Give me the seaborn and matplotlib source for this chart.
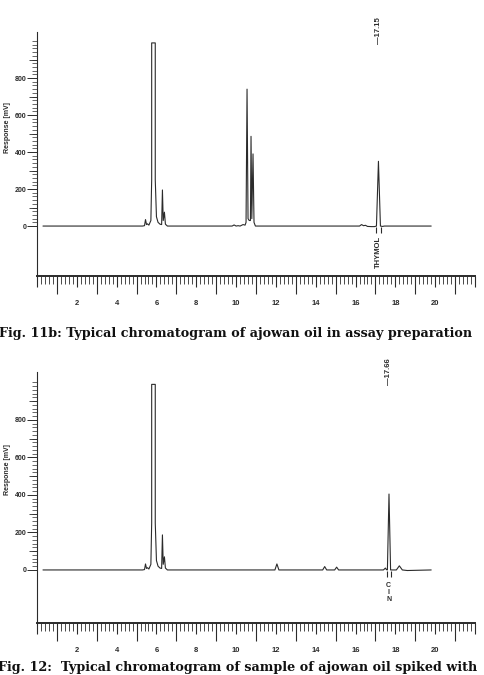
import numpy as np
import pandas as pd
import matplotlib
matplotlib.use('Agg')
import matplotlib.pyplot as plt
import matplotlib.ticker as mticker
import seaborn as sns

# =====================================================
# DATA
# =====================================================

# Fig. 11b - ajowan oil, assay preparation
top_time = [0.3, 5.3, 5.4, 5.45, 5.5, 5.55, 5.62, 5.72, 5.76, 5.76, 5.94, 5.94, 6.0, 6.08, 6.18, 6.26,
            6.3, 6.34, 6.4, 6.45, 6.55, 9.8, 9.9, 10.0, 10.1, 10.2, 10.35, 10.45, 10.5, 10.55, 10.6,
            10.66, 10.72, 10.75, 10.79, 10.85, 10.9, 10.97, 16.2, 16.3, 16.4, 16.5, 16.6, 16.8, 16.95,
            17.05, 17.15, 17.25, 17.35, 17.45, 19.8]
top_resp = [0, 0, 2, 35, 8, 12, 5, 30, 250, 990, 990, 250, 50, 20, 10, 8,
            195, 30, 75, 10, 0, 0, 6, 0, 2, 0, 8, 5, 20, 740, 40,
            30, 30, 485, 40, 390, 20, 0, 0, 8, 2, 4, -2, -3, -3,
            0, 350, 0, -2, 0, 0]
top_marks = [17.02, 17.3]
top_rt_label = '\u201417.15'
top_peak_rt = 17.15
top_peak_name = 'THYMOL'

# Fig. 12 - second chromatogram
bot_time = [0.3, 5.3, 5.4, 5.45, 5.5, 5.55, 5.62, 5.72, 5.76, 5.76, 5.94, 5.94, 6.0, 6.08, 6.18, 6.26,
            6.3, 6.34, 6.4, 6.45, 6.55, 11.95, 12.05, 12.15, 14.35, 14.45, 14.55, 14.95, 15.05, 15.15,
            17.4, 17.5, 17.55, 17.6, 17.68, 17.76, 18.05, 18.2, 18.35, 18.6, 19.8]
bot_resp = [0, 0, 2, 32, 8, 12, 5, 30, 250, 990, 990, 250, 50, 20, 10, 8,
            187, 30, 70, 10, 0, 0, 32, 0, 0, 18, 0, 0, 15, 0,
            0, 10, 2, 0, 405, 0, 0, 22, 0, -3, 0]
bot_marks = [17.56, 17.8]
bot_rt_label = '\u201417.66'
bot_peak_rt = 17.66
bot_peak_name = 'C\nI\nN'

caption_top = 'Fig. 11b: Typical chromatogram of ajowan oil in assay preparation'
caption_bot = 'Fig. 12:  Typical chromatogram of sample of ajowan oil spiked with'

# =====================================================
# STYLE
# =====================================================

W, H = 485, 675
sns.set_style('white')
plt.rcParams['font.family'] = ['Liberation Sans', 'DejaVu Sans']
INK = '#2b2b2b'


def px_axes(fig, left, right, bottom, top):
    """Axes placed with pixel coordinates (origin top-left)."""
    return fig.add_axes([left / W, 1 - bottom / H, (right - left) / W, (bottom - top) / H])


def draw_panel(ax, time, resp, marks, rt_label, rt, name, ylim, name_y, name_kw):
    df = pd.DataFrame({'t': time, 'r': resp})
    sns.lineplot(data=df, x='t', y='r', sort=False, estimator=None, ax=ax,
                 color=INK, linewidth=0.8)
    ax.plot(marks, [-22] * len(marks), ls='none', marker='|', ms=4, mew=0.8, color=INK)

    ax.set_xlim(0, 22)
    ax.set_ylim(*ylim)
    ax.set_xlabel('')
    ax.set_ylabel('')

    for s in ['top', 'right']:
        ax.spines[s].set_visible(False)
    ax.spines['left'].set_color(INK)
    ax.spines['left'].set_linewidth(0.8)
    ax.spines['bottom'].set_color(INK)
    ax.spines['bottom'].set_linewidth(1.4)

    # x ruler: labelled even minutes, fine ticks every 0.2 min
    ax.xaxis.set_major_locator(mticker.MultipleLocator(2))
    ax.xaxis.set_minor_locator(mticker.MultipleLocator(0.2))
    ax.xaxis.set_major_formatter(mticker.FuncFormatter(
        lambda v, _: f'{int(round(v))}' if 2 <= v <= 20 else ''))
    ax.tick_params(axis='x', which='both', bottom=True)
    ax.tick_params(axis='x', which='major', direction='out', length=8, width=0.8,
                   color=INK, labelsize=5.5, pad=9, labelcolor=INK)
    ax.tick_params(axis='x', which='minor', direction='out', length=5.5, width=0.6, color=INK)
    for lab in ax.get_xticklabels():
        lab.set_fontweight('bold')
    sec = ax.secondary_xaxis('bottom')
    sec.set_xticks(np.arange(1, 22, 2))
    sec.tick_params(axis='x', bottom=True, length=13, width=0.8, color=INK, labelbottom=False)
    sec.spines['bottom'].set_visible(False)
    sec.xaxis.set_minor_locator(mticker.NullLocator())

    # y ticks only over 0..1000
    ax.yaxis.set_major_locator(mticker.FixedLocator(np.arange(0, 900, 200)))
    ax.yaxis.set_minor_locator(mticker.FixedLocator(np.arange(0, 1001, 20)))
    ax.tick_params(axis='y', which='both', left=True)
    ax.tick_params(axis='y', which='major', direction='out', length=7, width=0.7,
                   color=INK, labelsize=5, pad=0.5, labelcolor=INK)
    ax.tick_params(axis='y', which='minor', direction='out', length=3.5, width=0.5, color=INK)
    for lab in ax.get_yticklabels():
        lab.set_fontweight('bold')
    secy = ax.secondary_yaxis('left')
    secy.set_yticks(np.arange(100, 1001, 200))
    secy.tick_params(axis='y', left=True, length=5.5, width=0.6, color=INK, labelleft=False)
    secy.spines['left'].set_visible(False)
    secy.yaxis.set_minor_locator(mticker.NullLocator())

    # retention time label above the peak, peak name under the baseline
    ax.text(rt, 985, rt_label, rotation=90, ha='center', va='bottom', fontsize=5.5,
            fontweight='bold', color=INK, clip_on=False)
    ax.text(rt, name_y, name, color=INK, clip_on=False, **name_kw)


fig = plt.figure(figsize=(W / 100, H / 100), dpi=100)
fig.patch.set_facecolor('white')

ax1 = px_axes(fig, 37, 475, 276, 32)
draw_panel(ax1, top_time, top_resp, top_marks, top_rt_label, top_peak_rt, top_peak_name,
           (-270, 1049), -55,
           dict(rotation=90, ha='center', va='top', fontsize=5.5, fontweight='bold'))

ax2 = px_axes(fig, 37, 475, 623, 372)
draw_panel(ax2, bot_time, bot_resp, bot_marks, bot_rt_label, bot_peak_rt, bot_peak_name,
           (-283, 1056), -65,
           dict(ha='center', va='top', fontsize=5, fontweight='bold', linespacing=0.95))

# y axis titles
ylab_kw = dict(rotation=90, ha='center', va='center', fontsize=5, fontweight='bold', color=INK)
fig.text(8 / W, 1 - 128 / H, 'Response [mV]', **ylab_kw)
fig.text(8 / W, 1 - 470 / H, 'Response [mV]', **ylab_kw)

cap_kw = dict(family=['DejaVu Serif'], fontweight='bold',
              fontsize=9.2, color='#111111')
fig.text(472 / W, 1 - 333 / H, caption_top, va='center', ha='right', **cap_kw)
fig.text(-2 / W, 1 - 661 / H, caption_bot, va='top', ha='left', **cap_kw)

fig.savefig('out.png', dpi=100, facecolor='white')
